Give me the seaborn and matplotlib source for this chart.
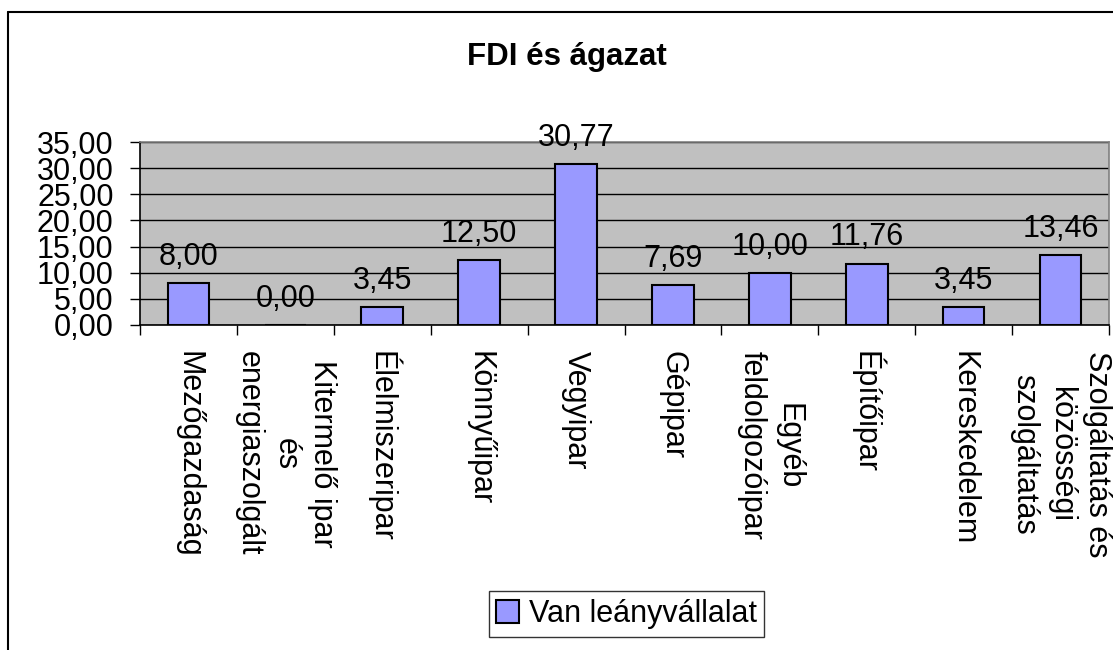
import matplotlib
matplotlib.use("Agg")
import matplotlib.pyplot as plt
from matplotlib.lines import Line2D
import seaborn as sns
import pandas as pd
import numpy as np

categories = [
    "Mezőgazdaság",
    "Kitermelő ipar\nés\nenergiaszolgált",
    "Élelmiszeripar",
    "Könnyűipar",
    "Vegyipar",
    "Gépipar",
    "Egyéb\nfeldolgozóipar",
    "Építőipar",
    "Kereskedelem",
    "Szolgáltatás és\nközösségi\nszolgáltatás",
]
values = [8.00, 0.00, 3.45, 12.50, 30.77, 7.69, 10.00, 11.76, 3.45, 13.46]
series_name = "Van leányvállalat"
title = "FDI és ágazat"
yticks = [0, 5, 10, 15, 20, 25, 30, 35]

sns.set_style("white")
plt.rcParams["font.family"] = ["Liberation Sans", "DejaVu Sans"]
plt.rcParams["font.size"] = 22
plt.rcParams["text.color"] = "black"
plt.rcParams["xtick.color"] = "black"
plt.rcParams["ytick.color"] = "black"
plt.rcParams["axes.labelcolor"] = "black"

df = pd.DataFrame({"cat": categories, "val": values})

fig = plt.figure(figsize=(11.13, 6.5), dpi=100)
ax = fig.add_axes([140 / 1113, 0.5, (1109 - 140) / 1113, (325 - 142) / 650])

sns.barplot(data=df, x="cat", y="val", color="#9999FF", edgecolor="black",
            linewidth=1.5, width=0.43, saturation=1, ax=ax, label=series_name,
            zorder=3)

ax.set_facecolor("#C0C0C0")
ax.set_xlim(-0.5, len(categories) - 0.5)
ax.set_ylim(0, 35)
ax.set_yticks(yticks)
ax.set_yticklabels([f"{v:.2f}".replace(".", ",") for v in yticks], fontsize=22,
                   color="black")
ax.yaxis.grid(True, color="black", linewidth=1)
ax.set_axisbelow(True)
ax.set_xlabel("")
ax.set_ylabel("")

# category labels at centers, tick marks at boundaries
ax.set_xticks(range(len(categories)))
labels = ax.set_xticklabels(categories, rotation=-90, ha="center", va="top",
                            multialignment="center", fontsize=22, color="black")
for lbl in labels:
    lbl.set_linespacing(1.3)
ax.tick_params(axis="x", which="major", length=0, pad=19)
ax.set_xticks(np.arange(-0.5, len(categories), 1.0), minor=True)
ax.tick_params(axis="x", which="minor", length=7, width=1, color="black",
               direction="out", bottom=True)
ax.tick_params(axis="y", length=7, width=1, color="black", direction="out",
               left=True, pad=12)

for s in ["left", "bottom"]:
    ax.spines[s].set_color("black")
    ax.spines[s].set_linewidth(1.2)
for s in ["top", "right"]:
    ax.spines[s].set_color("#808080")
    ax.spines[s].set_linewidth(1.2)

for i, v in enumerate(values):
    ax.annotate(f"{v:.2f}".replace(".", ","), (i, v), xytext=(0, 13),
                textcoords="offset points", ha="center", va="baseline",
                fontsize=22, color="black", zorder=5)

fig.text(567 / 1113, 1 - 57 / 650, title, ha="center", va="center",
         fontsize=22.5, fontweight="bold", color="black")

leg = ax.legend(loc="center", bbox_to_anchor=(626.5 / 1113, 36 / 650),
                bbox_transform=fig.transFigure, frameon=True, fancybox=False,
                edgecolor="black", fontsize=22, handlelength=0.75,
                handleheight=0.75, handletextpad=0.3, borderpad=0.25,
                borderaxespad=0, labelcolor="black")
leg.get_frame().set_linewidth(1)

# outer chart border
fig.add_artist(Line2D([8 / 1113, 8 / 1113], [0, 1 - 12 / 650],
                      transform=fig.transFigure, color="black", linewidth=1.5))
fig.add_artist(Line2D([8 / 1113, 1], [1 - 12 / 650, 1 - 12 / 650],
                      transform=fig.transFigure, color="black", linewidth=1.5))

fig.savefig("out.png", dpi=100)
